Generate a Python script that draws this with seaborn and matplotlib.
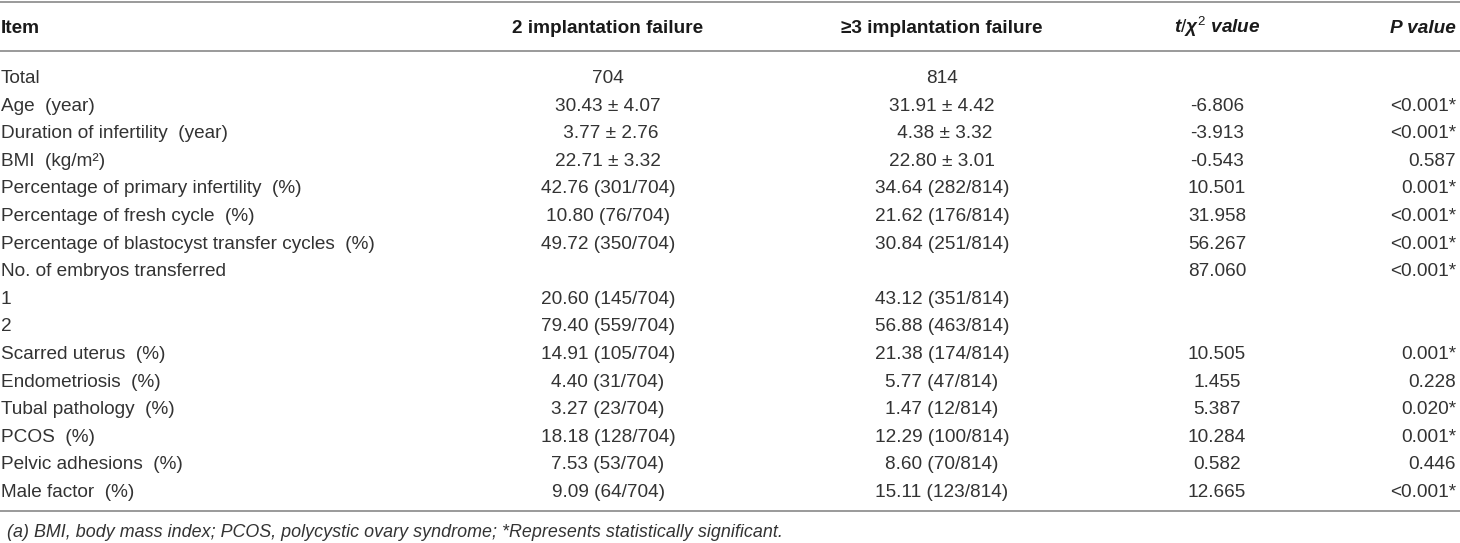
import seaborn as sns
import matplotlib.pyplot as plt

sns.set_theme(style="white")
plt.rcParams['font.family'] = ['Liberation Sans', 'DejaVu Sans']
plt.rcParams['mathtext.fontset'] = 'custom'
plt.rcParams['mathtext.rm'] = 'Liberation Sans'
plt.rcParams['mathtext.it'] = 'Liberation Sans:italic:bold'
plt.rcParams['mathtext.bf'] = 'Liberation Sans:bold'

headers = ["Item", "2 implantation failure", "\u22653 implantation failure",
           r"$t/\chi^2$ value", "P value"]

items = ["Total", "Age  (year)", "Duration of infertility  (year)", "BMI  (kg/m\u00b2)",
         "Percentage of primary infertility  (%)", "Percentage of fresh cycle  (%)",
         "Percentage of blastocyst transfer cycles  (%)", "No. of embryos transferred",
         "1", "2", "Scarred uterus  (%)", "Endometriosis  (%)", "Tubal pathology  (%)",
         "PCOS  (%)", "Pelvic adhesions  (%)", "Male factor  (%)"]

fail2 = ["704", "30.43 \u00b1 4.07", " 3.77 \u00b1 2.76", "22.71 \u00b1 3.32",
         "42.76 (301/704)", "10.80 (76/704)", "49.72 (350/704)", "",
         "20.60 (145/704)", "79.40 (559/704)", "14.91 (105/704)", "4.40 (31/704)",
         "3.27 (23/704)", "18.18 (128/704)", "7.53 (53/704)", "9.09 (64/704)"]

fail3 = ["814", "31.91 \u00b1 4.42", " 4.38 \u00b1 3.32", "22.80 \u00b1 3.01",
         "34.64 (282/814)", "21.62 (176/814)", "30.84 (251/814)", "",
         "43.12 (351/814)", "56.88 (463/814)", "21.38 (174/814)", "5.77 (47/814)",
         "1.47 (12/814)", "12.29 (100/814)", "8.60 (70/814)", "15.11 (123/814)"]

t_vals = ["", "-6.806", "-3.913", "-0.543", "10.501", "31.958", "56.267", "87.060",
          "", "", "10.505", "1.455", "5.387", "10.284", "0.582", "12.665"]

p_vals = ["", "<0.001*", "<0.001*", "0.587", "0.001*", "<0.001*", "<0.001*", "<0.001*",
          "", "", "0.001*", "0.228", "0.020*", "0.001*", "0.446", "<0.001*"]

note = "(a) BMI, body mass index; PCOS, polycystic ovary syndrome; *Represents statistically significant."

W, H = 1460, 543
fig = plt.figure(figsize=(W / 100, H / 100), dpi=100)
ax = fig.add_axes([0, 0, 1, 1])
ax.set_xlim(0, W)
ax.set_ylim(H, 0)
ax.axis("off")

fs = 13.7
txt = "#333333"
rule = "#9a9a9a"

# column x positions and alignment
cols = [(1, "left"), (608, "center"), (942, "center"), (1217, "center"), (1456, "right")]

# rules
for y in [1.5, 51, 511]:
    ax.plot([0, W], [y, y], color=rule, lw=1.4, solid_capstyle="butt")

# header
for (x, ha), h in zip(cols, headers):
    style = "italic" if h == "P value" or "chi" in h else "normal"
    ax.text(x, 33, h, ha=ha, va="baseline", fontsize=fs, fontweight="bold",
            fontstyle=style, color="#1a1a1a")

# body
y0, step = 83, 27.6
for i in range(len(items)):
    y = y0 + i * step
    for (x, ha), col in zip(cols, [items, fail2, fail3, t_vals, p_vals]):
        if col[i]:
            ax.text(x, y, col[i], ha=ha, va="baseline", fontsize=fs, color=txt)

ax.text(7, 537, note, ha="left", va="baseline", fontsize=12.9,
        fontstyle="italic", color=txt)

fig.savefig("out.png", dpi=100)
